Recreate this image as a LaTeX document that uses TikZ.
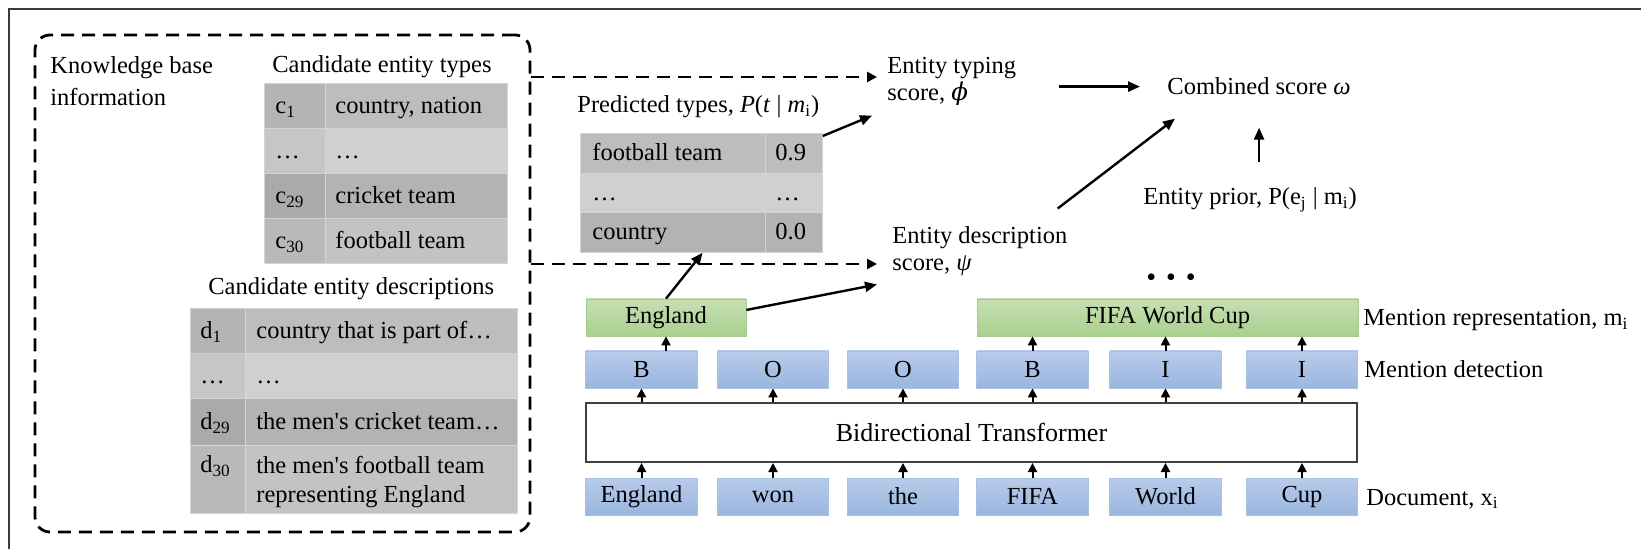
\documentclass[tikz,border=0pt]{standalone}
\usepackage{fontspec}
\setmainfont{Liberation Serif}
\newfontfamily\phifont{DejaVu Serif}
\usetikzlibrary{arrows.meta,calc}

\definecolor{framec}{HTML}{3A3A3A}
\definecolor{bluetop}{HTML}{B8CBEA}
\definecolor{bluebot}{HTML}{9AB6DF}
\definecolor{blueedge}{HTML}{A8C0E4}
\definecolor{greentop}{HTML}{C6DFB4}
\definecolor{greenbot}{HTML}{A9D08D}
\definecolor{greenedge}{HTML}{A5CC8A}
\definecolor{trline}{HTML}{404040}
\definecolor{rowA}{HTML}{BDBDBD}
\definecolor{rowB}{HTML}{D0D0D0}
\definecolor{rowC}{HTML}{B3B3B3}
\definecolor{rowD}{HTML}{C3C3C3}
\definecolor{cellline}{HTML}{D4D4D4}

\newcommand\fs{\fontsize{12.25pt}{13.5pt}\selectfont}
\newcommand\lowidx[1]{\textsubscript{#1}}

\begin{document}
\begin{tikzpicture}[x=0.5pt, y=-0.5pt,
  every node/.style={font=\fs, inner sep=0pt},
  lbl/.style={anchor=base west},
  kbbox/.style={draw, line width=1.4pt, dash pattern=on 6.5pt off 4pt, rounded corners=7.5pt},
  dasharr/.style={line width=1.4pt, dash pattern=on 6.5pt off 4pt, -{Triangle[length=5pt,width=5pt]}},
  arr/.style={line width=1.2pt, -{Triangle[length=6pt,width=5pt]}},
  sarr/.style={line width=1pt, -{Triangle[length=4.5pt,width=4.5pt]}},
  bluebox/.style={draw=blueedge, line width=0.4pt, top color=bluetop, bottom color=bluebot,
                  minimum width=55.75pt, minimum height=18.5pt},
  greenbox/.style={draw=greenedge, line width=0.4pt, top color=greentop, bottom color=greenbot,
                   minimum height=18.5pt},
  trbox/.style={draw=trline, line width=1pt, fill=white, minimum width=385.5pt, minimum height=29.5pt,
                font=\fontsize{13pt}{15pt}\selectfont},
  cell/.style={anchor=north west, draw=cellline, line width=0.4pt}
]
\useasboundingbox (0,0) rectangle (1641,549);
\fill[white] (0,0) rectangle (1641,549);
\draw[framec, line width=1pt] (9,549) -- (9,9) -- (1641,9);

% ---------- knowledge base panel ----------
\node[kbbox, minimum width=247.5pt, minimum height=248.5pt] (kb) at (282.5,283.5) {};
\node[anchor=north west, align=left, font=\fontsize{12.25pt}{16pt}\selectfont] (kbtitle) at (50,56)
  {Knowledge base\\information};

% candidate entity types
\node[lbl] (typtitle) at (272,73) {Candidate entity types};
\foreach \r/\top/\col/\ca/\cb in {1/83/rowA/{c\lowidx{1}}/{country, nation},
                                  2/128/rowB/{…}/{…},
                                  3/173/rowC/{c\lowidx{29}}/{cricket team},
                                  4/218/rowD/{c\lowidx{30}}/{football team}} {
  \node[cell, fill=\col!95!black, minimum width=30.5pt, minimum height=22.5pt] (tya\r) at (264,\top) {};
  \node[cell, fill=\col, minimum width=91pt, minimum height=22.5pt] (tyb\r) at (325,\top) {};
  \node[lbl] (tyta\r) at (275,\top+30.5) {\ca};
  \node[lbl] (tytb\r) at (335,\top+30.5) {\cb};
}

% candidate entity descriptions
\node[lbl] (desctitle) at (208,295) {Candidate entity descriptions};
\foreach \r/\top/\h/\col in {1/308/22.5/rowA, 2/353/22.5/rowB, 3/398/23.5/rowC, 4/445/34/rowD} {
  \node[cell, fill=\col!95!black, minimum width=27.5pt, minimum height=\h pt] (dea\r) at (190,\top) {};
  \node[cell, fill=\col, minimum width=136pt, minimum height=\h pt] (deb\r) at (245,\top) {};
}
\node[lbl] (deta1) at (200,338.5) {d\lowidx{1}};
\node[lbl] (detb1) at (256,338.5) {country that is part of…};
\node[lbl] (deta2) at (200,383.5) {…};
\node[lbl] (detb2) at (256,383.5) {…};
\node[lbl] (deta3) at (200,429.5) {d\lowidx{29}};
\node[lbl] (detb3) at (256,429.5) {the men\textquotesingle s cricket team…};
\node[lbl] (deta4) at (200,473) {d\lowidx{30}};
\node[anchor=north west, align=left, font=\fontsize{12.25pt}{14.5pt}\selectfont] (detb4) at (256,456)
  {the men\textquotesingle s football team\\representing England};

% ---------- predicted types ----------
\node[lbl] (predtitle) at (577,113)
  {Predicted types, \textit{P}(\textit{t} | \textit{m}\lowidx{i})};
\foreach \r/\top/\h/\col/\ca/\cb in {1/133/20/rowA/{football team}/{0.9},
                                     2/173/19.5/rowB/{…}/{…},
                                     3/212/20/rowC/{country}/{0.0}} {
  \node[cell, fill=\col, minimum width=92.5pt, minimum height=\h pt] (pa\r) at (580,\top) {};
  \node[cell, fill=\col, minimum width=28.5pt, minimum height=\h pt] (pb\r) at (765,\top) {};
  \node[lbl] (pta\r) at (592,\top+\h+8) {\ca};
  \node[lbl] (ptb\r) at (775,\top+\h+8) {\cb};
}

% ---------- scores ----------
\node[anchor=north west, align=left] (etyp) at (887,56.5)
  {Entity typing\\score, {\phifont\itshape ϕ}};
\node[anchor=north west, align=left] (edesc) at (892,226.5)
  {Entity description\\score, \textit{ψ}};
\node[lbl] (comb) at (1167,95) {Combined score \textit{ω}};
\node[lbl] (prior) at (1143,205) {Entity prior, P(e\lowidx{j} | m\lowidx{i})};
\node (dots) at (1171,280) {\fontsize{14pt}{14pt}\selectfont •\hspace{5pt}•\hspace{5pt}•};

\coordinate (typtip) at (877,77);
\coordinate (desctip) at (877,264);
\draw[dasharr] (kb.east |- typtip) -- (typtip);
\draw[dasharr] (kb.east |- desctip) -- (desctip);

\draw[arr, shorten <=21.5pt, shorten >=13.5pt] (etyp.east |- comb.west) -- (comb.west);
\draw[arr] ([shift={(-5pt,9pt)}]edesc.north east) -- ([shift={(4pt,-11.5pt)}]comb.south west);
\draw[arr, shorten <=13pt, shorten >=16pt] (comb.south |- prior.north) -- (comb.south);

% ---------- encoder stack ----------
\node[greenbox, minimum width=80pt] (gEng) at (666,317.5) {England};
\node[greenbox, minimum width=190.5pt] (gFifa) at (1167.5,317.5) {FIFA World Cup};
\node[trbox] (tr) at (971.5,432.5) {Bidirectional Transformer};

\foreach \i/\cx/\blab/\word in {1/641.5/B/England, 2/773/O/won, 3/903/O/the,
                                 4/1032.5/B/FIFA, 5/1165.5/I/World, 6/1302/I/Cup} {
  \node[bluebox] (bio\i) at (\cx,369.5) {\blab};
  \node[bluebox] (tok\i) at (\cx,496.5) {\word};
  \draw[sarr] (tok\i.north) -- (tok\i.north |- tr.south);
  \draw[sarr] (bio\i.south |- tr.north) -- (bio\i.south);
}
\draw[sarr] (bio1.north -| gEng.south) -- (gEng.south);
\foreach \i in {4,5,6} {
  \draw[sarr] (bio\i.north) -- (bio\i.north |- gFifa.south);
}

\node[lbl] (mrep) at (1363,326) {Mention representation, m\lowidx{i}};
\node[lbl] (mdet) at (1364,378) {Mention detection};
\node[lbl] (mdoc) at (1366,505) {Document, x\lowidx{i}};

% ---------- links from the mention ----------
\draw[arr] ([yshift=-1.5pt]pb1.north east) -- ([shift={(-7.5pt,-5pt)}]etyp.south west);
\draw[arr] (gEng.north) -- ($(pa3.south west)!0.66!(pa3.south east)$);
\draw[arr] ($(gEng.north east)!0.3!(gEng.south east)$) -- ([shift={(-7.5pt,-4pt)}]edesc.south west);
\end{tikzpicture}
\end{document}
